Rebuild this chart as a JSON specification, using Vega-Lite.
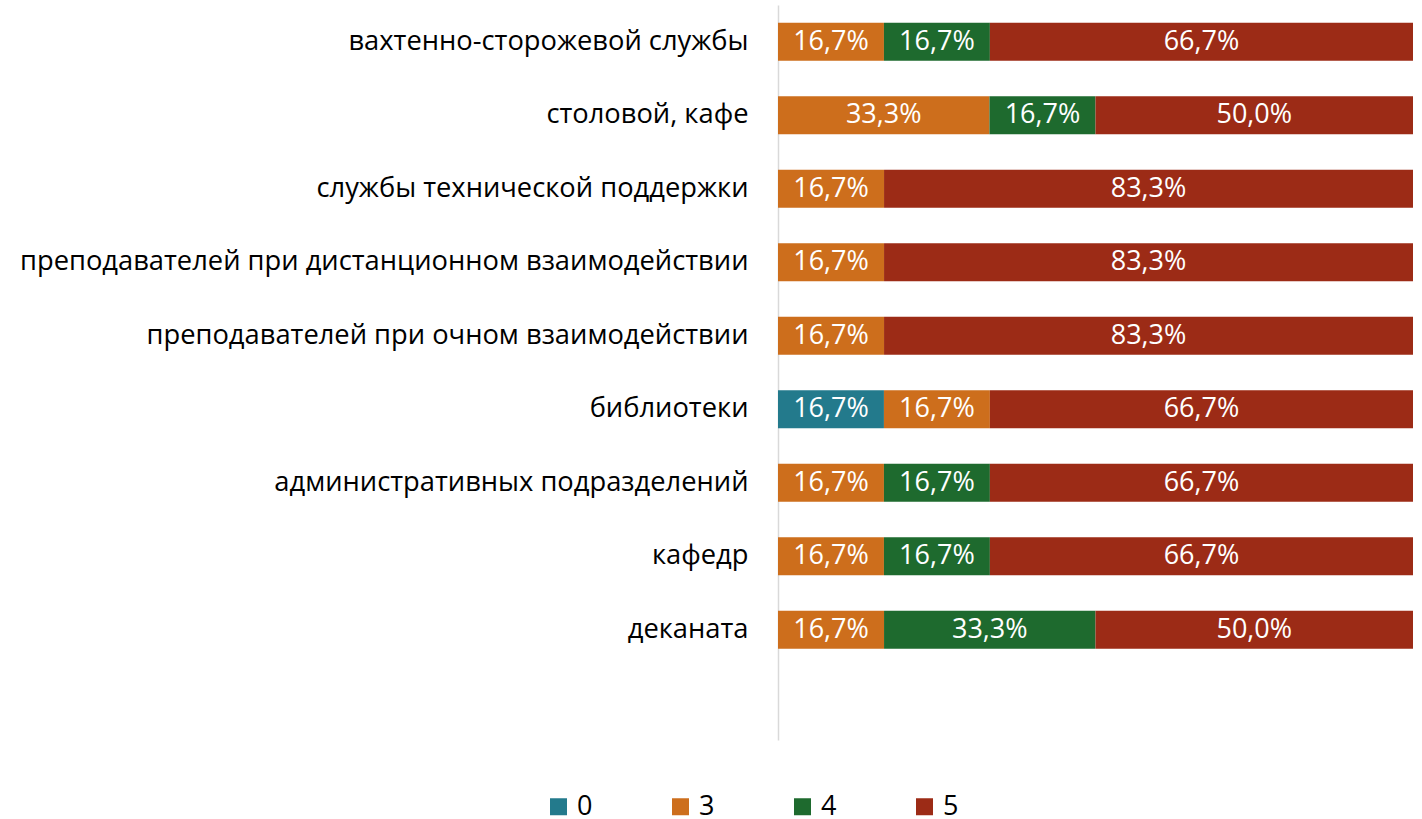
{
  "$schema": "https://vega.github.io/schema/vega-lite/v6.json",
  "width": 635,
  "height": 735,
  "autosize": {"type": "none"},
  "padding": {"left": 778, "top": 5, "right": 9, "bottom": 79},
  "background": "#ffffff",
  "config": {
    "view": {"stroke": null},
    "font": "Open Sans",
    "locale": {"number": {"decimal": ",", "thousands": " ", "grouping": [3], "currency": ["", ""]}}
  },
  "data": {
    "values": [
      {"category": "вахтенно-сторожевой службы", "score": "3", "value": 0.167},
      {"category": "вахтенно-сторожевой службы", "score": "4", "value": 0.167},
      {"category": "вахтенно-сторожевой службы", "score": "5", "value": 0.667},
      {"category": "столовой, кафе", "score": "3", "value": 0.333},
      {"category": "столовой, кафе", "score": "4", "value": 0.167},
      {"category": "столовой, кафе", "score": "5", "value": 0.5},
      {"category": "службы технической поддержки", "score": "3", "value": 0.167},
      {"category": "службы технической поддержки", "score": "5", "value": 0.833},
      {"category": "преподавателей при дистанционном взаимодействии", "score": "3", "value": 0.167},
      {"category": "преподавателей при дистанционном взаимодействии", "score": "5", "value": 0.833},
      {"category": "преподавателей при очном взаимодействии", "score": "3", "value": 0.167},
      {"category": "преподавателей при очном взаимодействии", "score": "5", "value": 0.833},
      {"category": "библиотеки", "score": "0", "value": 0.167},
      {"category": "библиотеки", "score": "3", "value": 0.167},
      {"category": "библиотеки", "score": "5", "value": 0.667},
      {"category": "административных подразделений", "score": "3", "value": 0.167},
      {"category": "административных подразделений", "score": "4", "value": 0.167},
      {"category": "административных подразделений", "score": "5", "value": 0.667},
      {"category": "кафедр", "score": "3", "value": 0.167},
      {"category": "кафедр", "score": "4", "value": 0.167},
      {"category": "кафедр", "score": "5", "value": 0.667},
      {"category": "деканата", "score": "3", "value": 0.167},
      {"category": "деканата", "score": "4", "value": 0.333},
      {"category": "деканата", "score": "5", "value": 0.5}
    ]
  },
  "transform": [
    {"stack": "value", "groupby": ["category"], "sort": [{"field": "score", "order": "ascending"}], "offset": "normalize", "as": ["x0", "x1"]},
    {"calculate": "(datum.x0 + datum.x1) / 2", "as": "xmid"}
  ],
  "encoding": {
    "y": {
      "field": "category",
      "type": "nominal",
      "title": null,
      "scale": {
        "domain": ["вахтенно-сторожевой службы", "столовой, кафе", "службы технической поддержки", "преподавателей при дистанционном взаимодействии", "преподавателей при очном взаимодействии", "библиотеки", "административных подразделений", "кафедр", "деканата", " "],
        "paddingInner": 0.48,
        "paddingOuter": 0.24
      },
      "axis": {
        "ticks": false,
        "domainColor": "#d9d9d9",
        "domainWidth": 1.5,
        "labelFontSize": 27.3,
        "labelColor": "#000000",
        "labelPadding": 30,
        "labelLimit": 0,
        "labelFont": "Open Sans",
        "grid": false
      }
    }
  },
  "layer": [
    {
      "mark": {"type": "bar"},
      "encoding": {
        "x": {"field": "x0", "type": "quantitative", "scale": {"domain": [0, 1], "nice": false}, "axis": null},
        "x2": {"field": "x1"},
        "color": {
          "field": "score",
          "type": "nominal",
          "scale": {"domain": ["0", "3", "4", "5"], "range": ["#237A8C", "#CD6E1C", "#1E6A2E", "#9C2B16"]},
          "legend": {
            "title": null,
            "orient": "none",
            "direction": "horizontal",
            "legendX": -233,
            "legendY": 788,
            "symbolType": "square",
            "symbolSize": 289,
            "symbolStrokeWidth": 0,
            "labelFontSize": 27,
            "labelColor": "#000000",
            "labelOffset": 5,
            "labelLimit": 0,
            "columnPadding": 74
          }
        }
      }
    },
    {
      "mark": {"type": "text", "color": "#ffffff", "fontSize": 27, "align": "center", "baseline": "middle"},
      "encoding": {
        "x": {"field": "xmid", "type": "quantitative"},
        "text": {"field": "value", "type": "quantitative", "format": ".1%"}
      }
    }
  ]
}
